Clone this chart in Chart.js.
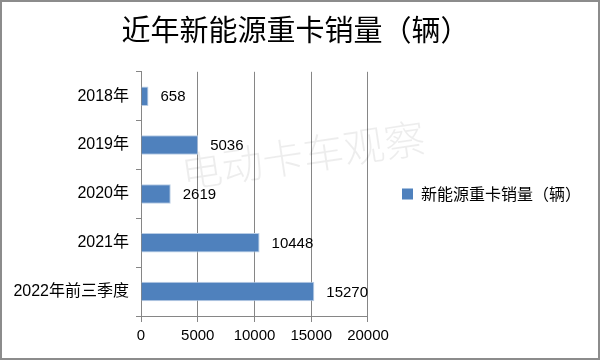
<!DOCTYPE html>
<html>
<head>
<meta charset="utf-8">
<script src="https://cdn.jsdelivr.net/npm/chart.js@4/dist/chart.umd.min.js"></script>
<style>
  html, body { margin: 0; padding: 0; background: #fff; }
  #wrap { width: 600px; height: 360px; }
</style>
</head>
<body>
<div id="wrap"><canvas id="myChart" width="600" height="360"></canvas></div>
<script>
/* data */
const categories = ["2018年", "2019年", "2020年", "2021年", "2022年前三季度"];
const sales = [658, 5036, 2619, 10448, 15270];
const seriesName = "新能源重卡销量（辆）";
const chartTitle = "近年新能源重卡销量（辆）";
const watermark = "电动卡车观察";
const xTicks = [0, 5000, 10000, 15000, 20000];

const latin = "'Liberation Sans', 'Noto Sans CJK SC', sans-serif";
const cjk = "'Noto Sans CJK SC', sans-serif";

// frame + watermark, value labels
const decor = {
    id: "decor",
    beforeDraw: (chart) => {
        const ctx = chart.ctx;
        ctx.save();
        ctx.fillStyle = "#fff";
        ctx.fillRect(0, 0, chart.width, chart.height);
        ctx.restore();
    },
    beforeDatasetsDraw: (chart) => {
        const ctx = chart.ctx;
        ctx.save();
        ctx.translate(303, 155);
        ctx.rotate(-8.5 * Math.PI / 180);
        ctx.font = "300 41px " + cjk;
        ctx.fillStyle = "rgba(0,0,0,0.07)";
        ctx.textAlign = "center";
        ctx.textBaseline = "middle";
        ctx.fillText(watermark, 0, 0);
        ctx.restore();
    },
    afterDatasetsDraw: (chart) => {
        const ctx = chart.ctx;
        const meta = chart.getDatasetMeta(0);
        ctx.save();
        ctx.font = "15px " + latin;
        ctx.fillStyle = "#000";
        ctx.textAlign = "left";
        ctx.textBaseline = "middle";
        meta.data.forEach((bar, i) => {
            ctx.fillText(String(sales[i]), bar.x + 12, bar.y + 1);
        });
        ctx.restore();
    },
    afterDraw: (chart) => {
        const ctx = chart.ctx;
        ctx.save();
        ctx.strokeStyle = "#8c8c8c";
        ctx.lineWidth = 2;
        ctx.strokeRect(1, 1, chart.width - 2, chart.height - 2);
        ctx.restore();
    },
};

const config = {
    type: "bar",
    data: {
        labels: categories,
        datasets: [
            {
                label: seriesName,
                data: sales,
                backgroundColor: "#4f81bd",
                borderColor: "#b9cde5",
                borderWidth: 1,
                borderSkipped: "left",
                categoryPercentage: 1,
                barPercentage: 0.4,
            },
        ],
    },
    options: {
        indexAxis: "y",
        responsive: false,
        animation: false,
        layout: {
            padding: { left: 0, right: 9, top: 0, bottom: 10 },
        },
        plugins: {
            title: {
                display: true,
                text: chartTitle,
                color: "#000",
                font: { family: cjk, size: 29, weight: "normal", lineHeight: 1.2 },
                padding: { top: 13, bottom: 24 },
            },
            legend: {
                position: "right",
                fullSize: false,
                maxWidth: 260,
                labels: {
                    color: "#000",
                    boxWidth: 11,
                    boxHeight: 11,
                    padding: 12,
                    font: { family: cjk, size: 16 },
                    generateLabels: (chart) => [{
                        text: seriesName,
                        fillStyle: "#4f81bd",
                        strokeStyle: "#4f81bd",
                        lineWidth: 0,
                        datasetIndex: 0,
                    }],
                },
            },
            tooltip: { enabled: false },
        },
        scales: {
            x: {
                min: 0,
                max: 20000,
                afterBuildTicks: (axis) => {
                    axis.ticks = xTicks.map((v) => ({ value: v }));
                },
                ticks: {
                    color: "#000",
                    padding: 5,
                    font: { family: latin, size: 15 },
                    callback: (v) => String(v),
                },
                grid: {
                    color: "#868686",
                    tickLength: 6,
                    drawTicks: true,
                },
                border: { display: true, color: "#868686" },
            },
            y: {
                ticks: {
                    color: "#000",
                    padding: 7,
                    font: { family: latin, size: 16 },
                },
                grid: {
                    drawOnChartArea: false,
                    drawTicks: true,
                    tickLength: 5,
                    color: "#868686",
                },
                border: { display: true, color: "#868686" },
                afterFit: (axis) => {
                    axis.width = 141;
                },
            },
            // empty box between plot and legend
            gap: {
                type: "category",
                position: "right",
                axis: "y",
                display: true,
                ticks: { display: false },
                grid: { display: false },
                border: { display: false },
                afterFit: (axis) => {
                    axis.width = 22;
                },
            },
        },
    },
    plugins: [decor],
};

const myChart = new Chart(document.getElementById("myChart"), config);
</script>
</body>
</html>
